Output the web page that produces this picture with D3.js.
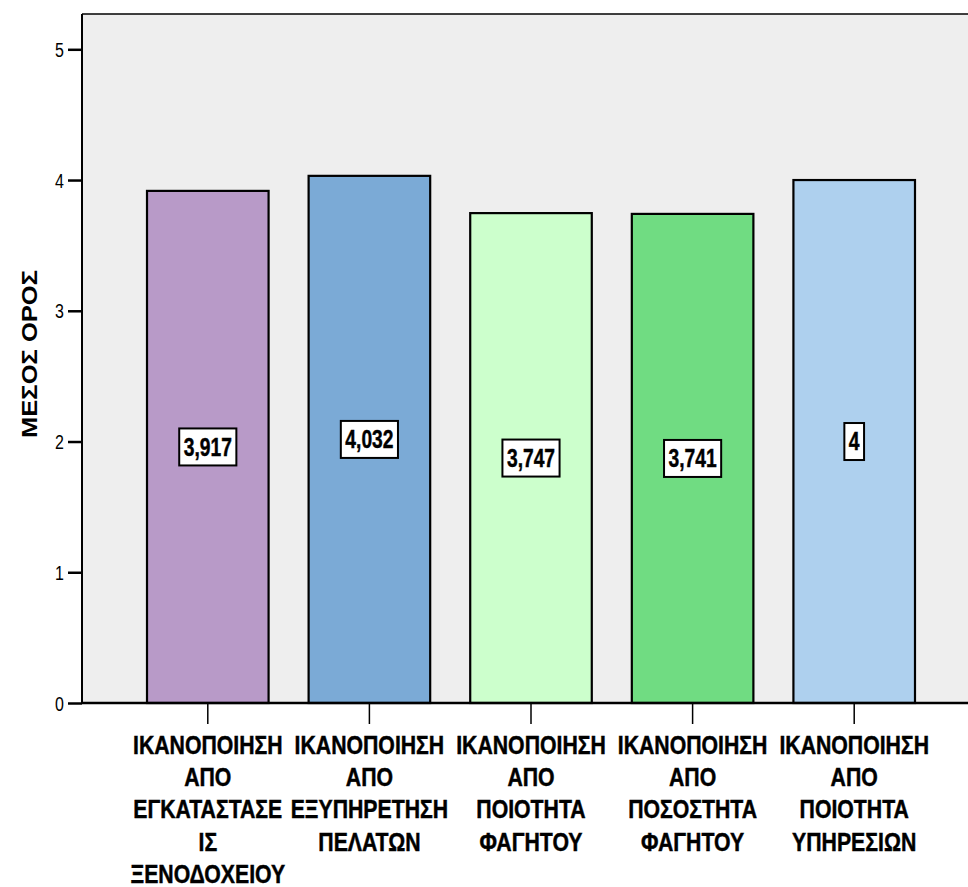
<!DOCTYPE html>
<html>
<head>
<meta charset="utf-8">
<script src="https://cdn.jsdelivr.net/npm/d3@7"></script>
<style>
  html, body { margin: 0; padding: 0; background: #ffffff; }
  svg { display: block; }
</style>
</head>
<body>
<svg id="chart" width="968" height="887"></svg>
<script>
// Satisfaction means per service area
const categories = [
  "ΙΚΑΝΟΠΟΙΗΣΗ\nΑΠΟ\nΕΓΚΑΤΑΣΤΑΣΕ\nΙΣ\nΞΕΝΟΔΟΧΕΙΟΥ",
  "ΙΚΑΝΟΠΟΙΗΣΗ\nΑΠΟ\nΕΞΥΠΗΡΕΤΗΣΗ\nΠΕΛΑΤΩΝ",
  "ΙΚΑΝΟΠΟΙΗΣΗ\nΑΠΟ\nΠΟΙΟΤΗΤΑ\nΦΑΓΗΤΟΥ",
  "ΙΚΑΝΟΠΟΙΗΣΗ\nΑΠΟ\nΠΟΣΟΣΤΗΤΑ\nΦΑΓΗΤΟΥ",
  "ΙΚΑΝΟΠΟΙΗΣΗ\nΑΠΟ\nΠΟΙΟΤΗΤΑ\nΥΠΗΡΕΣΙΩΝ"
];
const means = [3.917, 4.032, 3.747, 3.741, 4];
const barColors = ["#b89ac8", "#7baad6", "#ccffcc", "#70dc82", "#aed0ee"];
const yTicks = [0, 1, 2, 3, 4, 5];
const yTitle = "ΜΕΣΟΣ ΟΡΟΣ";

const svg = d3.select("#chart");

const plot = { left: 82, top: 14, right: 968, bottom: 703 };

const x = d3.scaleBand()
  .domain(d3.range(categories.length))
  .range([127, 935])
  .paddingInner(0.2477)
  .paddingOuter(0.1238);

const y = d3.scaleLinear()
  .domain([0, 5.27])
  .range([plot.bottom, plot.top]);

// Arial-metric face, squeezed horizontally to a narrow cut
const face = "'Liberation Sans', Arial, sans-serif";
const squeeze = 0.82;

// plot background and frame
svg.append("rect")
  .attr("x", plot.left).attr("y", plot.top)
  .attr("width", plot.right - plot.left + 10)
  .attr("height", plot.bottom - plot.top)
  .attr("fill", "#eeeeee");

svg.append("line")
  .attr("x1", plot.left).attr("x2", plot.right + 10)
  .attr("y1", plot.top).attr("y2", plot.top)
  .attr("stroke", "#000").attr("stroke-width", 1.5);

// bars
svg.append("g").selectAll("rect")
  .data(means)
  .join("rect")
  .attr("x", (d, i) => x(i))
  .attr("y", d => y(d))
  .attr("width", x.bandwidth())
  .attr("height", d => y(0) - y(d))
  .attr("fill", (d, i) => barColors[i])
  .attr("stroke", "#000")
  .attr("stroke-width", 2.2);

// y axis
const yAxis = d3.axisLeft(y)
  .tickValues(yTicks)
  .tickSize(14)
  .tickPadding(4)
  .tickFormat(d3.format("d"));

const gy = svg.append("g")
  .attr("transform", `translate(${plot.left},0)`)
  .call(yAxis);
gy.select(".domain").attr("stroke", "#000").attr("stroke-width", 2)
  .attr("d", `M0,${plot.top}V${plot.bottom}`);
gy.selectAll(".tick line").attr("stroke", "#000").attr("stroke-width", 2.5);
gy.selectAll(".tick text")
  .attr("x", 0)
  .attr("dy", "0.36em")
  .attr("transform", `translate(-18,0) scale(${squeeze},1)`)
  .attr("fill", "#000")
  .style("font-family", face)
  .style("font-size", "19.5px");

// x axis
const xAxis = d3.axisBottom(x)
  .tickSize(21)
  .tickFormat("");

const gx = svg.append("g")
  .attr("transform", `translate(0,${plot.bottom})`)
  .call(xAxis);
gx.select(".domain")
  .attr("d", `M${plot.left},0H${plot.right + 10}`)
  .attr("stroke", "#000").attr("stroke-width", 2.5);
gx.selectAll(".tick line").attr("stroke", "#000").attr("stroke-width", 1.5);

// category labels (multi-line, centred under each tick)
const catLabels = svg.append("g").selectAll("text")
  .data(categories)
  .join("text")
  .attr("transform", (d, i) => `translate(${x(i) + x.bandwidth() / 2},0) scale(0.85,1)`)
  .attr("text-anchor", "middle")
  .style("font-family", face)
  .style("font-weight", "bold")
  .style("font-size", "25px")
  .attr("fill", "#000")
  .attr("stroke", "#000")
  .attr("stroke-width", 0.45);

catLabels.each(function(d) {
  const t = d3.select(this);
  d.split("\n").forEach((line, k) => {
    t.append("tspan")
      .attr("x", 0)
      .attr("y", 754 + k * 32.2)
      .text(line);
  });
});

// value labels in white boxes at mid-height of each bar
const fmt = v => String(v).replace(".", ",");

const valueGroups = svg.append("g").selectAll("g")
  .data(means)
  .join("g")
  .attr("transform", (d, i) => `translate(${x(i) + x.bandwidth() / 2},${y(d / 2)})`);

valueGroups.append("rect").attr("class", "box");
valueGroups.append("text")
  .attr("text-anchor", "middle")
  .attr("y", 0)
  .attr("dy", "0.35em")
  .style("font-family", face)
  .style("font-weight", "bold")
  .style("font-size", "23px")
  .attr("fill", "#000")
  .attr("stroke", "#000")
  .attr("stroke-width", 0.4)
  .attr("transform", `scale(${squeeze * 1.02},1.1)`)
  .text(d => fmt(d));

valueGroups.each(function() {
  const g = d3.select(this);
  const w = g.select("text").node().getComputedTextLength() * squeeze * 1.02;
  g.select("rect.box")
    .attr("x", -w / 2 - 4.5)
    .attr("y", -18.5)
    .attr("width", w + 9)
    .attr("height", 37)
    .attr("fill", "#ffffff")
    .attr("stroke", "#000")
    .attr("stroke-width", 2);
});

// y axis title
svg.append("text")
  .attr("transform", `translate(37,${354}) rotate(-90)`)
  .attr("text-anchor", "middle")
  .attr("textLength", 168)
  .attr("lengthAdjust", "spacingAndGlyphs")
  .style("font-family", face)
  .style("font-weight", "bold")
  .style("font-size", "21.5px")
  .attr("fill", "#000")
  .text(yTitle);
</script>
</body>
</html>
